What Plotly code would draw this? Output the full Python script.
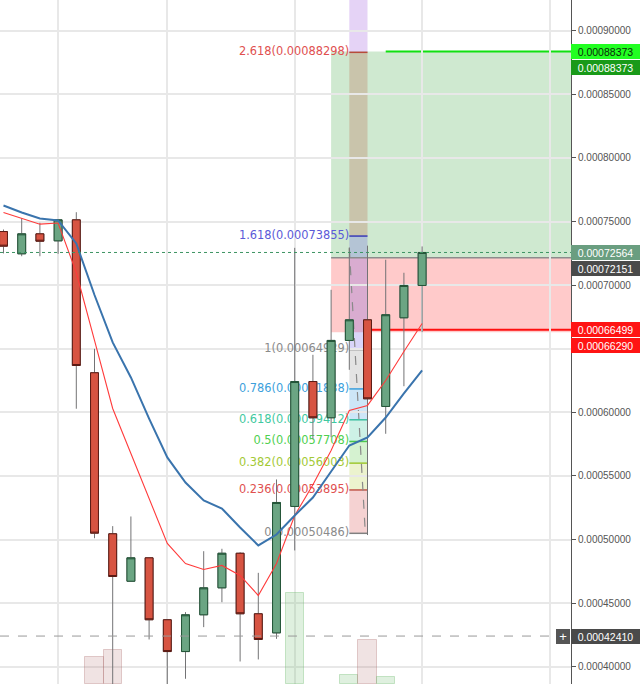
import plotly.graph_objects as go

# ---------------- data ----------------
idx = list(range(24))
opens = [0.0007421, 0.0007246, 0.0007403, 0.0007348, 0.0007513, 0.0006311, 0.0005045, 0.0004672,
         0.0004856, 0.0004369, 0.0004119, 0.0004408, 0.0004620, 0.0004892, 0.0004416, 0.0004266,
         0.0005260, 0.0006242, 0.0005957, 0.0006565, 0.0006727, 0.0006046, 0.0006743, 0.0006997]
highs = [0.0007437, 0.0007526, 0.0007490, 0.0007515, 0.0007573, 0.0006499, 0.0005105, 0.0005181,
         0.0004856, 0.0004369, 0.0004429, 0.0004908, 0.0004927, 0.0004900, 0.0004738, 0.0005472,
         0.0007293, 0.0006452, 0.0006963, 0.0007296, 0.0007310, 0.0007199, 0.0007097, 0.0007304]
lows = [0.0007249, 0.0007227, 0.0007227, 0.0007246, 0.0006028, 0.0005010, 0.0003810, 0.0004672,
        0.0004214, 0.0003840, 0.0003905, 0.0004311, 0.0004507, 0.0004041, 0.0004057, 0.0004219,
        0.0004914, 0.0005792, 0.0005804, 0.0006334, 0.0005035, 0.0005831, 0.0006205, 0.0006630]
closes = [0.0007306, 0.0007403, 0.0007345, 0.0007513, 0.0006368, 0.0005050, 0.0004709, 0.0004856,
          0.0004369, 0.0004119, 0.0004408, 0.0004620, 0.0004892, 0.0004416, 0.0004214, 0.0005291,
          0.0006242, 0.0005957, 0.0006565, 0.0006727, 0.0006106, 0.0006767, 0.0006997, 0.00072564]
ma_fast = [0.0007571, 0.0007524, 0.0007479, 0.0007488, 0.0007099, 0.0006565, 0.0006030, 0.0005676,
           0.0005322, 0.0004969, 0.0004811, 0.0004764, 0.0004796, 0.0004717, 0.0004560, 0.0004811,
           0.0005189, 0.0005430, 0.0005700, 0.0006014, 0.0006054, 0.0006250, 0.0006478, 0.0006698]
ma_slow = [0.0007626, 0.0007571, 0.0007524, 0.0007508, 0.0007327, 0.0006922, 0.0006549, 0.0006274,
           0.0005951, 0.0005645, 0.0005448, 0.0005307, 0.0005244, 0.0005094, 0.0004953, 0.0005039,
           0.0005189, 0.0005330, 0.0005535, 0.0005739, 0.0005802, 0.0005959, 0.0006148, 0.0006329]
volume = [None, None, None, None, None, 27, 34, None, None, None, None, None,
          None, None, None, None, 91, None, None, 9, 44, 7, None, None]

fib_levels = ["0", "0.236", "0.382", "0.5", "0.618", "0.786", "1", "1.618", "2.618"]
fib_prices = [0.00050486, 0.00053895, 0.00056003, 0.00057708, 0.00059412,
              0.00061838, 0.00064929, 0.00073855, 0.00088298]
fib_next = 0.00111671  # 4.236 level (off chart)
fib_text_colors = ["#8a8a8a", "#e0504f", "#a3c935", "#4fd04f", "#3fc9a0",
                   "#3c9fdc", "#8a8a8a", "#5a5ad8", "#e0504f"]
fib_line_colors = ["#808080", "#c0574a", "#9fc830", "#4cc84c", "#3cbfa0",
                   "#3c9fdc", "#808080", "#3a3ab8", "#b84a3a"]
fib_band_colors = ["rgba(215,80,80,0.26)", "rgba(175,205,50,0.24)", "rgba(80,200,60,0.24)",
                   "rgba(60,200,160,0.26)", "rgba(60,160,225,0.26)", "rgba(128,128,128,0.22)",
                   "rgba(95,80,230,0.24)", "rgba(185,80,55,0.24)", "rgba(150,80,220,0.25)"]

pos_target = 0.00088373
pos_entry = 0.00072151
pos_stop = 0.00066290
stop_line = 0.00066499
last_price = 0.00072564
cross_price = 0.00042410

y_ticks = [0.00040, 0.00045, 0.00050, 0.00055, 0.00060, 0.00065, 0.00070, 0.00075, 0.00080, 0.00085, 0.00090]
y_tick_text = ["0.00040000", "0.00045000", "0.00050000", "0.00055000", "0.00060000", "",
               "0.00070000", "0.00075000", "0.00080000", "0.00085000", "0.00090000"]
grid_x = [3, 9, 16, 23, 30]

# tool anchors (bar index)
pos_start = 18
fib_x0, fib_x1 = 19, 20
target_start = 21
stop_start = 20

Y_RANGE = [0.0003864, 0.00092413]
X_RANGE = [-0.192, 31.18]

UP_FILL, UP_LINE = "#6ba583", "#225437"
DN_FILL, DN_LINE = "#d75442", "#5b1a13"
WICK = "#737375"

fig = go.Figure()

# fib labels (under candles) on main axis
fig.add_trace(go.Scatter(
    x=[fib_x0] * len(fib_prices), y=fib_prices, mode="text",
    text=[f"{lv}({p:.8f})" for lv, p in zip(fib_levels, fib_prices)],
    textposition="middle left",
    textfont=dict(family="DejaVu Sans", size=11.4, color=fib_text_colors),
    hoverinfo="skip", showlegend=False, xaxis="x", yaxis="y"))

# volume
vol_colors = []
vol_lines = []
for o, c in zip(opens, closes):
    if c >= o:
        vol_colors.append("rgba(110,185,110,0.22)")
        vol_lines.append("rgba(110,185,110,0.35)")
    else:
        vol_colors.append("rgba(170,100,100,0.18)")
        vol_lines.append("rgba(170,100,100,0.30)")
fig.add_trace(go.Bar(x=idx, y=volume, width=1.0, marker=dict(color=vol_colors, line=dict(color=vol_lines, width=1)),
                     yaxis="y2", hoverinfo="skip", showlegend=False))

# wicks
fig.add_trace(go.Candlestick(
    x=idx, open=opens, high=highs, low=lows, close=closes, yaxis="y3",
    increasing=dict(fillcolor=WICK, line=dict(color=WICK, width=1)),
    decreasing=dict(fillcolor=WICK, line=dict(color=WICK, width=1)),
    whiskerwidth=0, showlegend=False, hoverinfo="skip"))
# bodies
body_hi = [max(o, c) for o, c in zip(opens, closes)]
body_lo = [min(o, c) for o, c in zip(opens, closes)]
fig.add_trace(go.Candlestick(
    x=idx, open=opens, high=body_hi, low=body_lo, close=closes, yaxis="y3",
    increasing=dict(fillcolor=UP_FILL, line=dict(color=UP_LINE, width=1)),
    decreasing=dict(fillcolor=DN_FILL, line=dict(color=DN_LINE, width=1)),
    whiskerwidth=0, showlegend=False, hoverinfo="skip"))

fig.add_trace(go.Scatter(x=idx, y=ma_fast, mode="lines", line=dict(color="#ff3b3b", width=1.1),
                         yaxis="y3", hoverinfo="skip", showlegend=False))
fig.add_trace(go.Scatter(x=idx, y=ma_slow, mode="lines", line=dict(color="#3a74ad", width=2),
                         yaxis="y3", hoverinfo="skip", showlegend=False))

shapes = []
# position tool boxes
shapes.append(dict(type="rect", xref="x", yref="y", x0=pos_start, x1=X_RANGE[1] + 1, y0=pos_entry, y1=pos_target,
                   fillcolor="rgba(76,175,80,0.27)", line=dict(width=0), layer="below"))
shapes.append(dict(type="rect", xref="x", yref="y", x0=pos_start, x1=X_RANGE[1] + 1, y0=pos_stop, y1=pos_entry,
                   fillcolor="rgba(255,80,80,0.30)", line=dict(width=0), layer="below"))
# fib bands
band_edges = fib_prices + [fib_next]
for i in range(len(fib_prices)):
    shapes.append(dict(type="rect", xref="x", yref="y", x0=fib_x0, x1=fib_x1,
                       y0=band_edges[i], y1=band_edges[i + 1],
                       fillcolor=fib_band_colors[i], line=dict(width=0), layer="below"))
for p, col in zip(fib_prices, fib_line_colors):
    shapes.append(dict(type="line", xref="x", yref="y", x0=fib_x0, x1=fib_x1, y0=p, y1=p,
                       line=dict(color=col, width=1.5), layer="below"))
# fib trend (dashed)
shapes.append(dict(type="line", xref="x", yref="y", x0=fib_x0, x1=fib_x1 - 0.12, y0=0.000729, y1=fib_prices[0],
                   line=dict(color="#8a8a8a", width=1.2, dash="dash"), layer="below"))
# entry/stop/target lines
shapes.append(dict(type="line", xref="x", yref="y", x0=pos_start, x1=X_RANGE[1] + 1, y0=pos_entry, y1=pos_entry,
                   line=dict(color="#8c8c8c", width=1.5), layer="below"))
shapes.append(dict(type="line", xref="x", yref="y", x0=stop_start, x1=X_RANGE[1] + 1, y0=stop_line, y1=stop_line,
                   line=dict(color="#ff1010", width=2), layer="below"))
shapes.append(dict(type="line", xref="x", yref="y", x0=target_start, x1=X_RANGE[1] + 1, y0=pos_target, y1=pos_target,
                   line=dict(color="#11e011", width=2), layer="below"))
# last price dotted line
shapes.append(dict(type="line", xref="paper", yref="y", x0=0, x1=1, y0=last_price, y1=last_price,
                   line=dict(color="#3d9462", width=1, dash="dot"), layer="above"))
# crosshair dashed line
shapes.append(dict(type="line", xref="paper", yref="y", x0=0, x1=0.975, y0=cross_price, y1=cross_price,
                   line=dict(color="#9a9a9a", width=1, dash="dash"), layer="above"))

LABEL_FONT = "Liberation Sans"
def price_label(val, text, bg, fg, yshift=0):
    return dict(xref="paper", yref="y", x=1, y=val, xanchor="left", yanchor="middle",
                text=text, showarrow=False, bgcolor=bg, width=67, height=13, borderpad=0,
                borderwidth=1, bordercolor=bg, yshift=yshift,
                font=dict(family=LABEL_FONT, size=10.5, color=fg))

annotations = [
    price_label(pos_target, f"{pos_target:.8f}", "#22ff22", "#0b2a0b"),
    price_label(pos_target, f"{pos_target:.8f}", "#199a19", "#ffffff", yshift=-16),
    price_label(last_price, f"{last_price:.8f}", "#6a9e80", "#ffffff"),
    price_label(last_price, f"{pos_entry:.8f}", "#4a4a4a", "#ffffff", yshift=-16),
    price_label(stop_line, f"{stop_line:.8f}", "#ff1414", "#ffffff"),
    price_label(stop_line, f"{pos_stop:.8f}", "#ff1414", "#ffffff", yshift=-15.5),
    price_label(cross_price, f"{cross_price:.8f}", "#4a4a4a", "#ffffff"),
    dict(xref="paper", yref="y", x=1, y=cross_price, xanchor="right", yanchor="middle", xshift=-1,
         text="+", showarrow=False, bgcolor="#555555", width=12, height=13, borderpad=0, borderwidth=1,
         bordercolor="#555555", font=dict(family=LABEL_FONT, size=13, color="#ffffff")),
]

fig.update_layout(
    width=640, height=684,
    margin=dict(l=0, r=69, t=0, b=0, autoexpand=False),
    paper_bgcolor="#ffffff", plot_bgcolor="#ffffff",
    showlegend=False, boxgap=0.38, boxmode="overlay", bargap=0,
    xaxis=dict(range=X_RANGE, showgrid=True, gridcolor="#e8e8e8", gridwidth=1.5,
               tickmode="array", tickvals=grid_x, showticklabels=False, ticks="",
               zeroline=False, showline=False, rangeslider=dict(visible=False), fixedrange=True),
    yaxis=dict(range=Y_RANGE, side="right", showgrid=True, gridcolor="#e8e8e8", gridwidth=1.5,
               tickmode="array", tickvals=y_ticks, ticktext=y_tick_text,
               ticks="outside", ticklen=4, tickcolor="#555555",
               showline=True, linecolor="#555555", linewidth=1, zeroline=False, automargin=False,
               tickfont=dict(family=LABEL_FONT, size=10, color="#555555")),
    yaxis2=dict(range=[0, 684], overlaying="y", visible=False, showgrid=False, zeroline=False),
    yaxis3=dict(range=Y_RANGE, overlaying="y", visible=False, showgrid=False, zeroline=False),
    shapes=shapes, annotations=annotations,
)

fig.write_html("out.html", config={"displayModeBar": False},
               post_script="document.body.style.margin='0';document.body.style.overflow='hidden';")
